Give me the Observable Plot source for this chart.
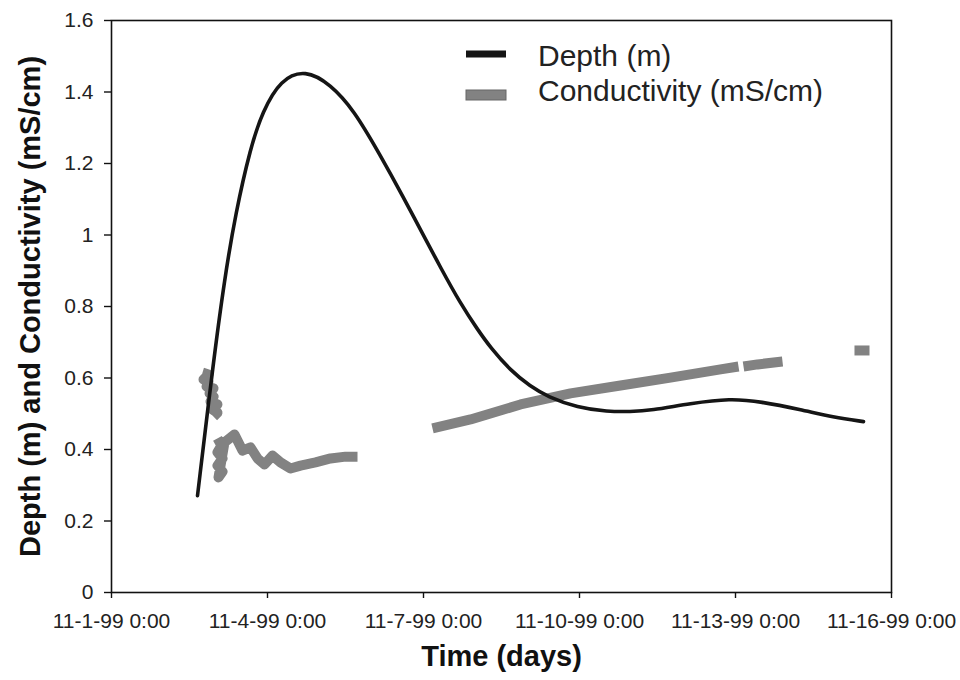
<!DOCTYPE html>
<html>
<head>
<meta charset="utf-8">
<script src="https://cdn.jsdelivr.net/npm/d3@7"></script>
<script src="https://cdn.jsdelivr.net/npm/@observablehq/plot@0.6"></script>
<style>
  html, body { margin: 0; padding: 0; background: #fff; }
  #chart { width: 960px; height: 680px; }
</style>
</head>
<body>
<div id="chart"></div>
<script>
// ---- Axis ticks (days since 11-1-99 0:00) ----
const xTickDays = [0, 3, 6, 9, 12, 15];
const xTickLabels = ["11-1-99 0:00", "11-4-99 0:00", "11-7-99 0:00", "11-10-99 0:00", "11-13-99 0:00", "11-16-99 0:00"];
const yTicks = [0, 0.2, 0.4, 0.6, 0.8, 1, 1.2, 1.4, 1.6];
const yTickLabels = ["0", "0.2", "0.4", "0.6", "0.8", "1", "1.2", "1.4", "1.6"];

// ---- Depth (m) ----
const depthDays = [1.654, 1.962, 2.173, 2.385, 2.673, 2.904, 3.25, 3.731, 4.212, 4.654, 5.173, 5.615, 5.942, 6.327, 6.712, 7.038, 7.288, 7.673, 8.058, 8.385, 8.962, 9.538, 9.981, 10.365, 11.135, 11.904, 12.481, 13.25, 13.885, 14.462];
const depthValues = [0.271, 0.649, 0.876, 1.060, 1.245, 1.345, 1.435, 1.463, 1.421, 1.351, 1.222, 1.105, 1.015, 0.909, 0.808, 0.736, 0.685, 0.621, 0.576, 0.548, 0.517, 0.506, 0.506, 0.509, 0.529, 0.543, 0.534, 0.512, 0.490, 0.478];

// ---- Conductivity (mS/cm), in logged segments ----
const condDays = [
  1.75, 1.865, 1.769, 1.865, 1.827, 1.962, 1.885, 1.962, 1.904, 2.038, 1.942, 2.038, 1.962,
  2.038, 2.115, 2.038, 2.135, 2.038, 2.135, 2.058, 2.173, 2.365, 2.519, 2.673, 2.808, 2.942, 3.096, 3.25, 3.442, 3.635, 3.923, 4.212, 4.5, 4.731,
  6.173, 6.904, 7.865, 8.827, 9.788, 10.75, 11.712, 12.058,
  12.154, 12.423, 12.904,
  14.288, 14.577
];
const condValues = [
  0.615, 0.610, 0.596, 0.590, 0.576, 0.571, 0.557, 0.548, 0.534, 0.526, 0.512, 0.503, 0.492,
  0.431, 0.411, 0.392, 0.375, 0.355, 0.338, 0.322, 0.420, 0.442, 0.397, 0.406, 0.375, 0.358, 0.383, 0.364, 0.347, 0.355, 0.364, 0.375, 0.380, 0.380,
  0.459, 0.484, 0.526, 0.557, 0.579, 0.601, 0.624, 0.632,
  0.632, 0.638, 0.646,
  0.677, 0.677
];
const condSegment = [
  1, 1, 1, 1, 1, 1, 1, 1, 1, 1, 1, 1, 1,
  2, 2, 2, 2, 2, 2, 2, 2, 2, 2, 2, 2, 2, 2, 2, 2, 2, 2, 2, 2, 2,
  3, 3, 3, 3, 3, 3, 3, 3,
  4, 4, 4,
  5, 5
];

const seriesNames = ["Depth (m)", "Conductivity (mS/cm)"];
const xTitle = "Time (days)";
const yTitle = "Depth (m) and Conductivity (mS/cm)";

const depth = depthDays.map((d, i) => ({day: d, value: depthValues[i]}));
const cond = condDays.map((d, i) => ({day: d, value: condValues[i], seg: condSegment[i]}));

const FONT = "'Liberation Sans', Arial, Helvetica, sans-serif";

const plot = Plot.plot({
  width: 960,
  height: 680,
  marginLeft: 111,
  marginRight: 69,
  marginTop: 20,
  marginBottom: 88,
  style: {fontFamily: FONT, color: "#222", background: "#fff", overflow: "visible"},
  x: {domain: [0, 15], axis: null},
  y: {domain: [0, 1.6], axis: null},
  marks: [
    Plot.lineY(cond, {x: "day", y: "value", z: "seg", stroke: "#828282", strokeWidth: 10, strokeLinecap: "butt", strokeLinejoin: "round"}),
    Plot.lineY(depth, {x: "day", y: "value", stroke: "#151515", strokeWidth: 3.6, curve: "basis"}),
    Plot.frame({stroke: "#111", strokeWidth: 1.6}),
    Plot.axisY({ticks: yTicks, tickSize: 7, tickPadding: 11, fontSize: 21, tickFormat: (d, i) => yTickLabels[i], label: null, stroke: "#111", strokeWidth: 1.4}),
    Plot.axisX({ticks: xTickDays, tickSize: 6, tickPadding: 15, fontSize: 21, tickFormat: (d, i) => xTickLabels[i], label: null, stroke: "#111", strokeWidth: 1.4}),
    Plot.text([xTitle], {frameAnchor: "bottom", dy: 73, fontSize: 29, fontWeight: "bold", fill: "#111"}),
    Plot.text([yTitle], {frameAnchor: "left", textAnchor: "middle", dx: -81, rotate: -90, fontSize: 29, fontWeight: "bold", fill: "#111"})
  ]
});

document.getElementById("chart").appendChild(plot);

// ---- Legend (inside the plot area, upper centre) ----
const svg = d3.select(plot);
const legend = svg.append("g").attr("font-family", FONT).attr("font-size", 30).attr("fill", "#222").attr("text-anchor", "start");
const legendRows = [
  {name: seriesNames[0], fill: "#151515", stroke: "none", h: 7, cy: 54, base: 65.5},
  {name: seriesNames[1], fill: "#828282", stroke: "#666", h: 10, cy: 95, base: 100.5}
];
legendRows.forEach(r => {
  legend.append("rect").attr("x", 466).attr("y", r.cy - r.h / 2).attr("width", 40).attr("height", r.h)
    .attr("fill", r.fill).attr("stroke", r.stroke).attr("stroke-width", 1);
  legend.append("text").attr("x", 538).attr("y", r.base).attr("text-anchor", "start").text(r.name);
});
</script>
</body>
</html>
